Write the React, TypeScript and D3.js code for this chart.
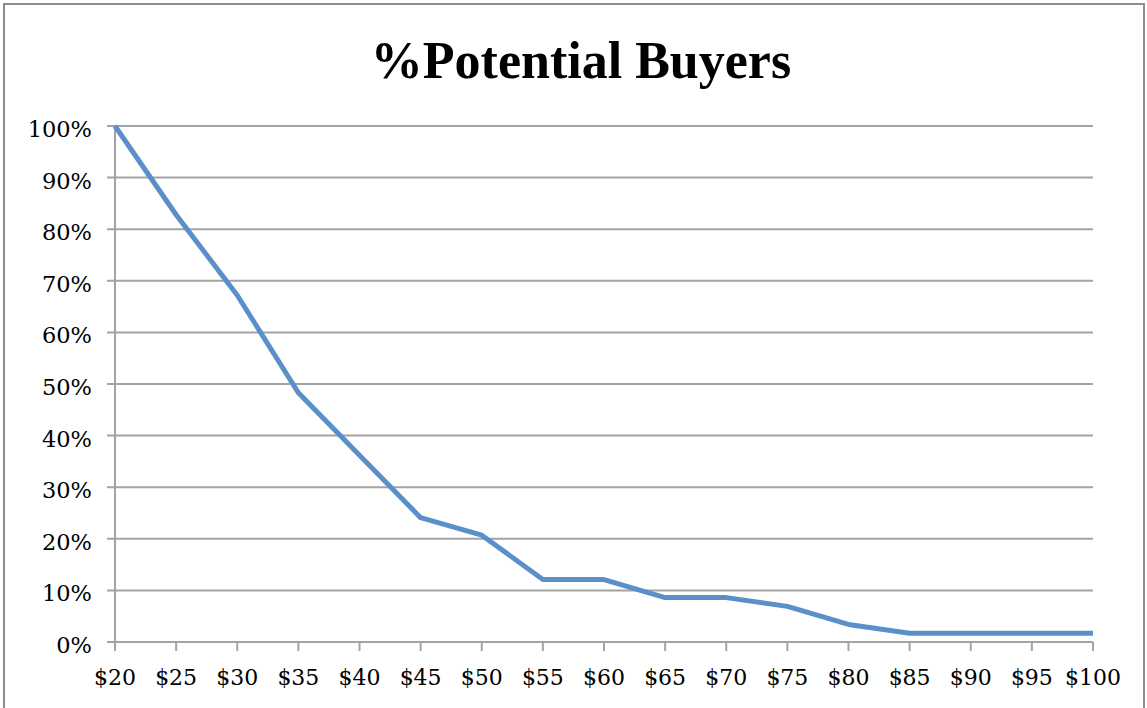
import React from "react";
import * as d3 from "d3";

const prices: number[] = [20, 25, 30, 35, 40, 45, 50, 55, 60, 65, 70, 75, 80, 85, 90, 95, 100];
const buyersPct: number[] = [100, 82.8, 67.2, 48.3, 36.2, 24.1, 20.7, 12.1, 12.1, 8.6, 8.6, 6.9, 3.4, 1.7, 1.7, 1.7, 1.7];
const yTicks: number[] = [0, 10, 20, 30, 40, 50, 60, 70, 80, 90, 100];
const title = "%Potential Buyers";

const W = 1147;
const H = 708;
const M = { left: 115, right: 1093, top: 126, bottom: 642 };

export default function App() {
  const x = d3.scaleLinear().domain([20, 100]).range([M.left, M.right]);
  const y = d3.scaleLinear().domain([0, 100]).range([M.bottom, M.top]);
  const line = d3
    .line<number>()
    .x((_, i) => x(prices[i]))
    .y((d) => y(d));
  const grid = "#a3a3a3";
  const titleFont = "'Liberation Serif', 'DejaVu Serif', serif";
  const tickFont = "'DejaVu Serif', 'Liberation Serif', serif";
  return (
    <svg
      width={W}
      height={H}
      style={{ position: "absolute", left: 0, top: 0, background: "#fff" }}
    >
      <rect x={4} y={4} width={W - 7} height={H + 20} fill="#fff" stroke="#8e8e8e" strokeWidth={2} />
      <text
        x={581}
        y={78}
        textAnchor="middle"
        fontFamily={titleFont}
        fontWeight="bold"
        fontSize={52}
        fill="#000"
      >
        {title}
      </text>
      {yTicks.map((t) => (
        <g key={"y" + t}>
          <line x1={M.left - 8} x2={M.right} y1={y(t)} y2={y(t)} stroke={grid} strokeWidth={2} />
          <text
            x={92}
            y={y(t) + 11}
            textAnchor="end"
            fontFamily={tickFont}
            fontSize={22.5}
            fill="#000"
          >
            {t + "%"}
          </text>
        </g>
      ))}
      <line x1={M.left} x2={M.left} y1={M.top} y2={M.bottom} stroke={grid} strokeWidth={2} />
      {prices.map((p) => (
        <g key={"x" + p}>
          <line x1={x(p)} x2={x(p)} y1={M.bottom} y2={M.bottom + 9} stroke={grid} strokeWidth={2} />
          <text
            x={x(p)}
            y={M.bottom + 43}
            textAnchor="middle"
            fontFamily={tickFont}
            fontSize={22}
            fill="#000"
          >
            {"$" + p}
          </text>
        </g>
      ))}
      <path
        d={line(buyersPct) || ""}
        fill="none"
        stroke="#5b8fc9"
        strokeWidth={5}
        strokeLinejoin="round"
        strokeLinecap="butt"
      />
    </svg>
  );
}
